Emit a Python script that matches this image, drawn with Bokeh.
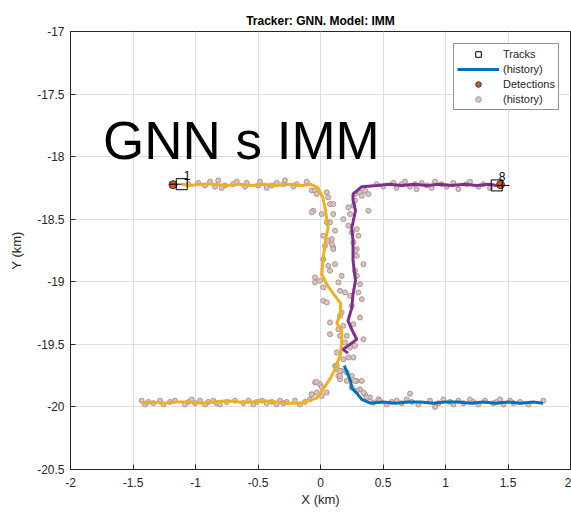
from bokeh.plotting import figure
from bokeh.models import (FixedTicker, Legend, LegendItem, Label, ColumnDataSource)
from bokeh.core.properties import value
from bokeh.embed import file_html
from bokeh.resources import INLINE

# ---------------- data (km) ----------------
x_ticks = [-2, -1.5, -1, -0.5, 0, 0.5, 1, 1.5, 2]
x_tick_labels = ["-2", "-1.5", "-1", "-0.5", "0", "0.5", "1", "1.5", "2"]
y_ticks = [-20.5, -20, -19.5, -19, -18.5, -18, -17.5, -17]
y_tick_labels = ["-20.5", "-20", "-19.5", "-19", "-18.5", "-18", "-17.5", "-17"]

# track 1 history (yellow)
t1_x = [-1.43, -1.35, -1.25, -1.15, -1.05, -0.95, -0.85, -0.75, -0.65, -0.55,
        -0.45, -0.35, -0.25, -0.16, -0.03, 0.02, 0.08, 0.12, 0.16, 0.17,
        0.17, 0.13, 0.16, 0.16, 0.10, 0.05, 0.01, 0.02, 0.04, 0.06,
        0.04, 0.02, -0.02, -0.08, -0.15, -0.25, -0.35, -0.45, -0.55, -0.65,
        -0.75, -0.85, -0.95, -1.05, -1.11]
t1_y = [-19.97, -19.96, -19.97, -19.96, -19.96, -19.97, -19.96, -19.95, -19.96, -19.96,
        -19.95, -19.96, -19.97, -19.97, -19.93, -19.86, -19.77, -19.69, -19.58, -19.47,
        -19.39, -19.33, -19.26, -19.17, -19.09, -19.02, -18.94, -18.83, -18.67, -18.57,
        -18.43, -18.33, -18.25, -18.22, -18.23, -18.22, -18.23, -18.22, -18.23, -18.22,
        -18.23, -18.22, -18.22, -18.23, -18.22]

# lost track history (blue)
t3_x = [1.78, 1.70, 1.60, 1.50, 1.40, 1.30, 1.20, 1.10, 1.00, 0.90,
        0.80, 0.70, 0.60, 0.50, 0.40, 0.33, 0.29, 0.25, 0.24, 0.19]
t3_y = [-19.97, -19.96, -19.97, -19.96, -19.97, -19.96, -19.97, -19.96, -19.96, -19.97,
        -19.96, -19.96, -19.97, -19.96, -19.97, -19.94, -19.89, -19.85, -19.79, -19.67]

# track 8 history (purple)
t8_x = [0.22, 0.18, 0.29, 0.25, 0.22, 0.25, 0.26, 0.28, 0.26, 0.26,
        0.25, 0.28, 0.26, 0.26, 0.33, 0.45, 0.55, 0.65, 0.75, 0.85,
        0.95, 1.05, 1.15, 1.25, 1.35, 1.41]
t8_y = [-19.57, -19.54, -19.46, -19.38, -19.31, -19.21, -19.10, -18.99, -18.83, -18.67,
        -18.57, -18.43, -18.35, -18.30, -18.24, -18.23, -18.22, -18.23, -18.22, -18.23,
        -18.22, -18.23, -18.22, -18.23, -18.22, -18.23]

# current tracks
trk_x = [-1.11, 1.41]
trk_y = [-18.22, -18.23]
trk_ids = ["1", "8"]
trk_vx = [-1.21, 1.51]

# current detections
det_now_x = [-1.18, 1.44]
det_now_y = [-18.224, -18.224]

# detection history
dh_a_x = [-1.058, -0.978, -0.924, -0.884, -0.844, -0.818, -0.79, -0.764, -0.698, -0.67,
          -0.604, -0.59, -0.498, -0.484, -0.43, -0.39, -0.35, -0.298, -0.284, -0.218,
          -0.19, -0.11, -0.07]
dh_a_y = [-18.22, -18.21, -18.23, -18.20, -18.24, -18.19, -18.25, -18.23, -18.22, -18.20,
          -18.24, -18.21, -18.23, -18.20, -18.25, -18.23, -18.21, -18.22, -18.19, -18.24,
          -18.22, -18.20, -18.27]
dh_b_x = [-0.044, -0.03, 0.05, 0.062, 0.076, 0.102, -0.058, -0.07, 0.01, 0.102,
          0.076, 0.05, 0.116, 0.022, 0.062, 0.09, 0.036, 0.102]
dh_b_y = [-18.272, -18.299, -18.285, -18.325, -18.379, -18.379, -18.432, -18.445, -18.459, -18.459,
          -18.525, -18.525, -18.592, -18.632, -18.672, -18.659, -18.712, -18.725]
dh_c_x = [0.276, 0.316, 0.356, 0.383, 0.33, 0.276, 0.263, 0.223, 0.236, 0.383,
          0.183, 0.223, 0.29, 0.25, 0.303, 0.263, 0.29]
dh_c_y = [-18.299, -18.285, -18.272, -18.299, -18.312, -18.352, -18.392, -18.405, -18.459, -18.432,
          -18.499, -18.552, -18.579, -18.605, -18.632, -18.685, -18.739]
dh_d_x = [0.449, 0.503, 0.583, 0.609, 0.649, 0.676, 0.716, 0.756, 0.769, 0.809,
          0.849, 0.889, 0.916, 0.969, 1.009, 1.063, 1.103, 1.169, 1.196, 1.263,
          1.303, 1.356]
dh_d_y = [-18.22, -18.24, -18.21, -18.25, -18.22, -18.20, -18.24, -18.22, -18.26, -18.21,
          -18.23, -18.25, -18.20, -18.22, -18.24, -18.21, -18.26, -18.22, -18.20, -18.24,
          -18.22, -18.25]
dh_e_x = [0.09, 0.102, 0.022, 0.062, 0.116, 0.076, -0.044, -0.004, -0.044, 0.169,
          0.143, 0.022, 0.156, 0.196, 0.022, 0.05, 0.169, 0.156, 0.076, 0.183,
          0.143, 0.076, 0.156, 0.21, 0.196, 0.236, 0.13, 0.263, 0.223, 0.183,
          0.116, 0.13, 0.169, 0.143, 0.156, -0.044, -0.004, -0.07, 0.01, -0.03]
dh_e_y = [-18.699, -18.739, -18.819, -18.872, -18.859, -18.912, -18.965, -18.992, -19.005, -18.952,
          -19.005, -19.045, -19.072, -19.085, -19.152, -19.165, -19.245, -19.272, -19.325, -19.352,
          -19.379, -19.419, -19.432, -19.432, -19.485, -19.525, -19.565, -19.605, -19.605, -19.619,
          -19.672, -19.699, -19.712, -19.752, -19.779, -19.805, -19.819, -19.899, -19.912, -19.885]
dh_f_x = [0.276, 0.29, 0.343, 0.276, 0.29, 0.316, 0.303, 0.236, 0.33, 0.25,
          0.316, 0.263, 0.343, 0.276, 0.21, 0.25, 0.29, 0.25, 0.316, 0.356, 0.396]
dh_f_y = [-18.752, -18.792, -18.859, -18.912, -18.952, -19.019, -19.085, -19.112, -19.139, -19.192,
          -19.285, -19.339, -19.459, -19.512, -19.725, -19.752, -19.792, -19.845, -19.859, -19.899, -19.925]
dh_g_x = [-1.431, -1.404, -1.377, -1.337, -1.284, -1.257, -1.204, -1.164, -1.084, -1.057,
          -1.031, -1.004, -0.964, -0.924, -0.897, -0.857, -0.831, -0.804, -0.751, -0.684,
          -0.617, -0.577, -0.537, -0.511, -0.471, -0.431, -0.391, -0.351, -0.324, -0.297,
          -0.271, -0.204, -0.164, -0.124, -0.084, -0.071, 0.05, 0.01, -0.031]
dh_g_y = [-19.95, -19.98, -19.96, -19.97, -19.95, -19.98, -19.96, -19.95, -19.98, -19.96,
          -19.94, -19.97, -19.95, -19.98, -19.96, -19.95, -19.97, -19.98, -19.96, -19.95,
          -19.97, -19.95, -19.98, -19.96, -19.95, -19.97, -19.96, -19.98, -19.95, -19.97,
          -19.96, -19.95, -19.98, -19.96, -19.94, -19.90, -19.885, -19.84, -19.80]
dh_h_x = [0.13, 0.156, 0.156, 0.21, 0.276, 0.33, 0.29, 0.343, 0.37, 0.423, 0.463, 0.716,
          0.476, 0.53, 0.57, 0.61, 0.65, 0.69, 0.73, 0.783, 0.876, 0.916,
          0.943, 0.983, 1.036, 1.063, 1.103, 1.143, 1.196, 1.223, 1.263, 1.316,
          1.383, 1.41, 1.436, 1.463, 1.516, 1.543, 1.596, 1.663, 1.783]
dh_h_y = [-19.672, -19.712, -19.752, -19.792, -19.792, -19.792, -19.872, -19.885, -19.925, -19.965, -19.939, -19.894,
          -19.95, -19.98, -19.96, -19.95, -19.97, -19.94, -19.96, -19.98, -19.95, -20.00,
          -19.97, -19.94, -19.96, -19.98, -19.95, -19.97, -19.94, -19.96, -19.98, -19.95,
          -19.97, -19.96, -19.94, -19.98, -19.95, -19.97, -19.96, -19.98, -19.95]

det_x = dh_a_x + dh_b_x + dh_c_x + dh_d_x + dh_e_x + dh_f_x + dh_g_x + dh_h_x
det_y = dh_a_y + dh_b_y + dh_c_y + dh_d_y + dh_e_y + dh_f_y + dh_g_y + dh_h_y

FONT = "Liberation Sans"
AX = "#262626"

p = figure(width=571, height=512, x_range=(-2, 2), y_range=(-20.5, -17),
           output_backend="svg", toolbar_location=None,
           min_border_left=70, min_border_right=1, min_border_top=31, min_border_bottom=43,
           background_fill_color="white", border_fill_color="white")
p.outline_line_color = AX
p.outline_line_width = 1

p.title.text = "Tracker: GNN. Model: IMM"
p.title.text_font = FONT
p.title.text_font_size = "12px"
p.title.text_font_style = "bold"
p.title.text_color = "black"
p.title.align = "center"
p.title.standoff = 8

p.xaxis.ticker = FixedTicker(ticks=x_ticks)
p.yaxis.ticker = FixedTicker(ticks=y_ticks)
p.xaxis.major_label_overrides = {float(t): s for t, s in zip(x_ticks, x_tick_labels)}
p.yaxis.major_label_overrides = {float(t): s for t, s in zip(y_ticks, y_tick_labels)}
for ax in (p.xaxis[0], p.yaxis[0]):
    ax.major_tick_in = 5
    ax.major_tick_out = 0
    ax.minor_tick_in = 0
    ax.minor_tick_out = 0
    ax.axis_line_color = AX
    ax.major_tick_line_color = AX
    ax.major_label_text_font = FONT
    ax.major_label_text_font_size = "12px"
    ax.major_label_text_color = AX
    ax.axis_label_text_font = FONT
    ax.axis_label_text_font_size = "13px"
    ax.axis_label_text_font_style = "normal"
    ax.axis_label_text_color = AX
p.xaxis.axis_label = "X (km)"
p.yaxis.axis_label = "Y (km)"
p.xaxis.major_label_standoff = 8
p.xaxis.axis_label_standoff = 2
p.yaxis.major_label_standoff = 6
p.yaxis.axis_label_standoff = 10

p.xgrid.ticker = FixedTicker(ticks=x_ticks)
p.ygrid.ticker = FixedTicker(ticks=y_ticks)
p.grid.grid_line_color = "#dedede"
p.grid.grid_line_width = 1

# detection history
dh = p.scatter(det_x, det_y, marker="circle", size=5, fill_color="#e6c0b4",
               line_color="#a09a9a", line_width=1)

# track histories
l1 = p.line(t1_x, t1_y, line_color="#EDB120", line_width=3)
l3 = p.line(t3_x, t3_y, line_color="#0072BD", line_width=3)
l8 = p.line(t8_x, t8_y, line_color="#7E2F8E", line_width=3)

# current detections
dn = p.scatter(det_now_x, det_now_y, marker="circle", size=8, fill_color="#D95319",
               line_color="#3a3a3a", line_width=1)

# current tracks (square + heading line + label)
src = ColumnDataSource(dict(x=trk_x, y=trk_y, vx=trk_vx, ids=trk_ids))
p.segment(x0="x", y0="y", x1="vx", y1="y", source=src, line_color="black", line_width=1)
tr = p.scatter(x="x", y="y", source=src, marker="square", size=11, fill_alpha=0,
               line_color="black", line_width=1)
p.text(x="x", y="y", text="ids", source=src, x_offset=2, y_offset=-4,
       text_font=value(FONT), text_font_size="12px", text_color="black",
       text_baseline="bottom", text_align="left")

# big overlay text
p.add_layout(Label(x=-1.74, y=-17.87, text="GNN s IMM", text_font=FONT,
                   text_font_size="53px", text_color="black", text_baseline="alphabetic"))

legend = Legend(items=[
    LegendItem(label="Tracks", renderers=[tr]),
    LegendItem(label="(history)", renderers=[l3]),
    LegendItem(label="Detections", renderers=[dn]),
    LegendItem(label="(history)", renderers=[dh]),
], location=(383, 359))
legend.label_text_font = FONT
legend.label_text_font_size = "11px"
legend.label_text_color = AX
legend.border_line_color = AX
legend.border_line_width = 1
legend.background_fill_alpha = 1
legend.glyph_width = 42
legend.glyph_height = 14
legend.label_height = 14
legend.spacing = 1
legend.padding = 3
legend.margin = 0
legend.label_standoff = 4
p.add_layout(legend)

open("out.html", "w").write(file_html(p, INLINE))
